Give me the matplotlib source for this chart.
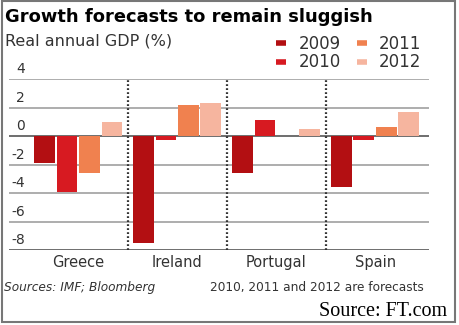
import numpy as np
import matplotlib.pyplot as plt
from matplotlib.lines import Line2D
from matplotlib.patches import Rectangle

# data
countries = ["Greece", "Ireland", "Portugal", "Spain"]
years = ["2009", "2010", "2011", "2012"]
g2009 = [-1.9, -7.5, -2.6, -3.6]
g2010 = [-3.9, -0.3, 1.1, -0.3]
g2011 = [-2.6, 2.2, 0.0, 0.6]
g2012 = [1.0, 2.3, 0.5, 1.7]
yticks = [4, 2, 0, -2, -4, -6, -8]

cols = ["#b30f12", "#d71a21", "#f0814f", "#f6b59f"]
W, H = 460, 325

fig = plt.figure(figsize=(W / 100, H / 100), dpi=100)
fig.patch.set_facecolor("white")


def fx(px):
    return px / W


def fy(py):
    return 1 - py / H


ax = fig.add_axes([fx(9), fy(250), fx(429) - fx(9), fy(79) - fy(250)])
ax.set_xlim(-0.70, 3.545)
ax.set_ylim(-8, 4)
ax.axis("off")

# grid lines
for t in yticks:
    c = "#555555" if t in (0, -8) else "#a0a0a0"
    ax.axhline(t, color=c, lw=1.2, zorder=1)
    ax.text(-0.54, t + 0.2, str(t), ha="right", va="bottom",
            fontsize=10, color="#333333")

# dotted separators between countries
for s in [0.5, 1.5, 2.5]:
    ax.plot([s, s], [-8, 3.9], color="#333333", lw=1.6,
            ls=(0, (0.8, 1.0)), zorder=3)

x = np.arange(len(countries))
step = 0.227
bw = 0.21
for i, vals in enumerate([g2009, g2010, g2011, g2012]):
    ax.bar(x + (i - 1.5) * step, vals, width=bw, color=cols[i], zorder=2)

for i, c in enumerate(countries):
    ax.text(i, -8.35, c, ha="center", va="top", fontsize=10.5, color="#333333")

# titles
fig.text(fx(5), fy(17), "Growth forecasts to remain sluggish", ha="left",
         va="center", fontsize=12.9, fontweight="bold", family="DejaVu Sans")
fig.text(fx(5), fy(41), "Real annual GDP (%)", ha="left", va="center",
         fontsize=11.5, color="#333333")

# legend
handles = [Line2D([], [], color=c, lw=4, solid_capstyle="butt") for c in cols]
fig.legend(handles, years, ncol=2, loc="center left",
           bbox_to_anchor=(fx(261), fy(53)), frameon=False, fontsize=12,
           handlelength=0.6, handletextpad=0.75, columnspacing=0.95,
           labelspacing=0.05, labelcolor="#333333")

# footnotes
fig.text(fx(4), fy(288), "Sources: IMF; Bloomberg", ha="left", va="center",
         fontsize=8.7, style="italic", color="#333333")
fig.text(fx(424), fy(288), "2010, 2011 and 2012 are forecasts", ha="right",
         va="center", fontsize=8.7, color="#333333")
fig.text(fx(447), fy(312), "Source: FT.com", ha="right", va="center",
         fontsize=14.5, family="Liberation Serif", color="black")

# outer frame
fig.patches.append(Rectangle((fx(2), fy(322)), fx(455) - fx(2), fy(1) - fy(322),
                             transform=fig.transFigure, fill=False,
                             edgecolor="#777777", lw=1.5))

fig.savefig("out.png", dpi=100)
